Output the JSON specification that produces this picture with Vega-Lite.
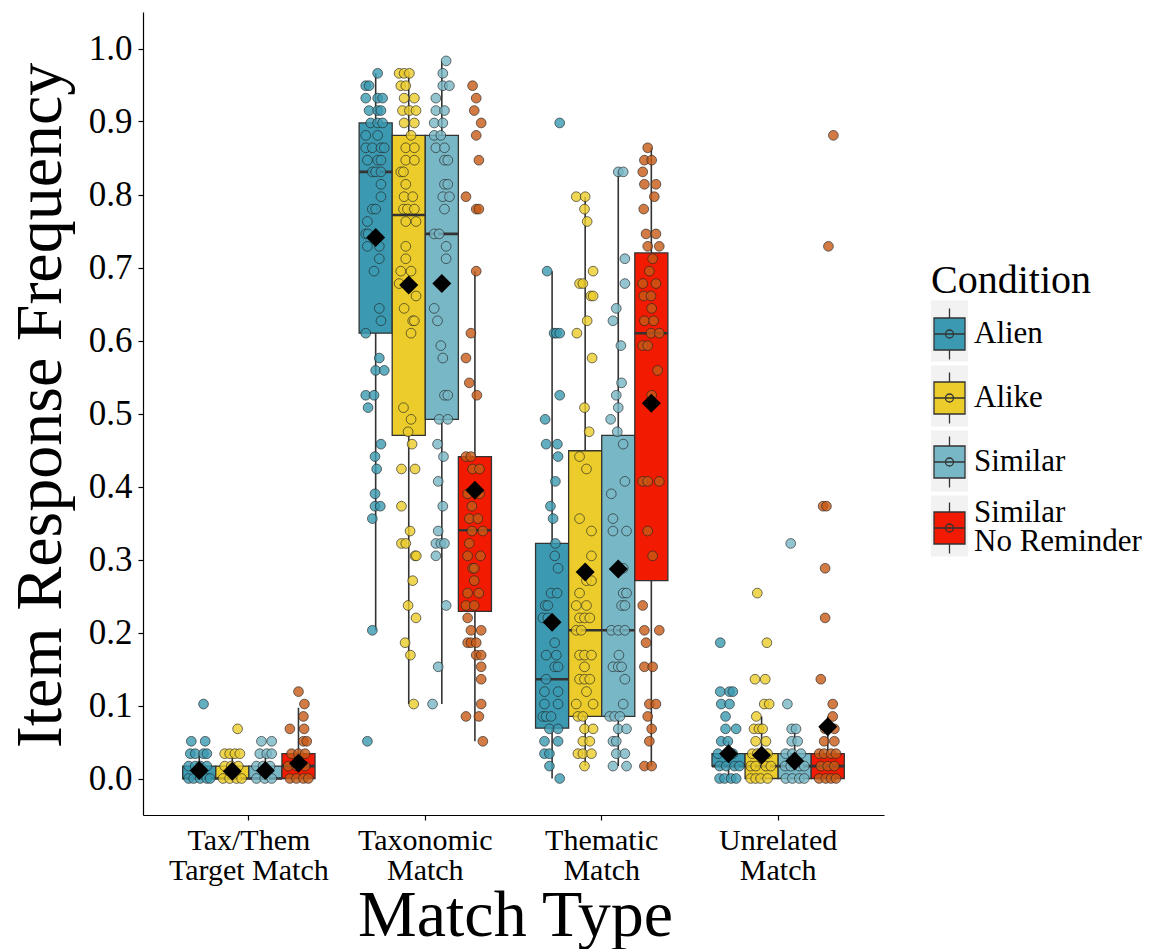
{
"$schema":"https://vega.github.io/schema/vega-lite/v6.json",
"width":741,"height":803,
"autosize":{"type":"none"},
"padding":{"left":143,"top":12,"right":272,"bottom":134},
"background":"white",
"config":{
 "font":"Liberation Serif",
 "view":{"stroke":null},
 "axis":{"grid":false,"domainColor":"black","domainWidth":1.2,"tickColor":"black","tickWidth":1.2,"tickSize":5,"labelColor":"black","titleColor":"black","titleFontWeight":"normal"},
 "axisY":{"labelFontSize":35,"labelPadding":6,"titleFontSize":66,"titleX":-83,"titleY":393,"titleBaseline":"alphabetic"},
 "axisX":{"labelFontSize":30,"labelLineHeight":30,"labelBaseline":"top","labelPadding":5,"labelAngle":0,"titleFontSize":66,"titleX":372,"titleY":120,"titleBaseline":"alphabetic"},
 "legend":{"orient":"none","legendX":788,"legendY":249,"titleFontSize":40,"titleFontWeight":"normal","titleColor":"black","titlePadding":12,"labelFontSize":31,"labelColor":"black","labelOffset":1,"labelLimit":300,"symbolSize":1600,"symbolType":"M-0.9,-0.8H0.65V0.8H-0.9Z M-0.125,-1.275V-0.8 M-0.125,0.8V1.275 M-0.9,0H0.65 M-0.325,0A0.2,0.2 0 1,1 0.075,0A0.2,0.2 0 1,1 -0.325,0Z","symbolStrokeColor":"#333333","symbolStrokeWidth":1.3,"symbolOpacity":1,"rowPadding":6}
},
"datasets":{
"boxes":[
{"match":"TaxThem","cond":"Alien","lo":0,"q1":0,"med":0,"q3":0.017,"hi":0.034,"mean":0.011},
{"match":"TaxThem","cond":"Alike","lo":0,"q1":0,"med":0,"q3":0.017,"hi":0.034,"mean":0.010},
{"match":"TaxThem","cond":"Similar","lo":0,"q1":0,"med":0,"q3":0.017,"hi":0.034,"mean":0.011},
{"match":"TaxThem","cond":"Similar No Reminder","lo":0,"q1":0,"med":0.017,"q3":0.034,"hi":0.097,"mean":0.021},
{"match":"Taxonomic","cond":"Alien","lo":0.203,"q1":0.610,"med":0.831,"q3":0.898,"hi":0.966,"mean":0.741},
{"match":"Taxonomic","cond":"Alike","lo":0.102,"q1":0.470,"med":0.772,"q3":0.881,"hi":0.966,"mean":0.676},
{"match":"Taxonomic","cond":"Similar","lo":0.102,"q1":0.492,"med":0.746,"q3":0.881,"hi":0.983,"mean":0.678},
{"match":"Taxonomic","cond":"Similar No Reminder","lo":0.051,"q1":0.229,"med":0.340,"q3":0.441,"hi":0.695,"mean":0.395},
{"match":"Thematic","cond":"Alien","lo":0,"q1":0.069,"med":0.136,"q3":0.322,"hi":0.695,"mean":0.214},
{"match":"Thematic","cond":"Alike","lo":0.017,"q1":0.085,"med":0.203,"q3":0.449,"hi":0.797,"mean":0.283},
{"match":"Thematic","cond":"Similar","lo":0.017,"q1":0.085,"med":0.203,"q3":0.470,"hi":0.831,"mean":0.287},
{"match":"Thematic","cond":"Similar No Reminder","lo":0.017,"q1":0.271,"med":0.610,"q3":0.720,"hi":0.864,"mean":0.514},
{"match":"Unrelated","cond":"Alien","lo":0,"q1":0.017,"med":0.017,"q3":0.034,"hi":0.051,"mean":0.034},
{"match":"Unrelated","cond":"Alike","lo":0,"q1":0,"med":0.017,"q3":0.034,"hi":0.085,"mean":0.032},
{"match":"Unrelated","cond":"Similar","lo":0,"q1":0,"med":0.017,"q3":0.034,"hi":0.068,"mean":0.024},
{"match":"Unrelated","cond":"Similar No Reminder","lo":0,"q1":0,"med":0.017,"q3":0.034,"hi":0.085,"mean":0.071}
],
"points":[
{"match":"TaxThem","cond":"Alien","freq":0.102,"jit":0.13},
{"match":"TaxThem","cond":"Alien","freq":0.051,"jit":-0.24},
{"match":"TaxThem","cond":"Alien","freq":0.051,"jit":0.18},
{"match":"TaxThem","cond":"Alien","freq":0.034,"jit":-0.27},
{"match":"TaxThem","cond":"Alien","freq":0.034,"jit":-0.12},
{"match":"TaxThem","cond":"Alien","freq":0.034,"jit":0.13},
{"match":"TaxThem","cond":"Alien","freq":0.034,"jit":0.23},
{"match":"TaxThem","cond":"Alien","freq":0.017,"jit":-0.32},
{"match":"TaxThem","cond":"Alien","freq":0.017,"jit":-0.12},
{"match":"TaxThem","cond":"Alien","freq":0.017,"jit":0.03},
{"match":"TaxThem","cond":"Alien","freq":0.017,"jit":0.23},
{"match":"TaxThem","cond":"Alien","freq":0,"jit":-0.32},
{"match":"TaxThem","cond":"Alien","freq":0,"jit":-0.17},
{"match":"TaxThem","cond":"Alien","freq":0,"jit":0.03},
{"match":"TaxThem","cond":"Alien","freq":0,"jit":0.23},
{"match":"TaxThem","cond":"Alien","freq":0,"jit":0.33},
{"match":"TaxThem","cond":"Alike","freq":0.068,"jit":0.16},
{"match":"TaxThem","cond":"Alike","freq":0.034,"jit":-0.23},
{"match":"TaxThem","cond":"Alike","freq":0.034,"jit":-0.08},
{"match":"TaxThem","cond":"Alike","freq":0.034,"jit":0.08},
{"match":"TaxThem","cond":"Alike","freq":0.034,"jit":0.23},
{"match":"TaxThem","cond":"Alike","freq":0.017,"jit":-0.23},
{"match":"TaxThem","cond":"Alike","freq":0.017,"jit":-0.03},
{"match":"TaxThem","cond":"Alike","freq":0.017,"jit":0.18},
{"match":"TaxThem","cond":"Alike","freq":0,"jit":-0.28},
{"match":"TaxThem","cond":"Alike","freq":0,"jit":-0.08},
{"match":"TaxThem","cond":"Alike","freq":0,"jit":0.13},
{"match":"TaxThem","cond":"Alike","freq":0,"jit":0.28},
{"match":"TaxThem","cond":"Similar","freq":0.051,"jit":-0.12},
{"match":"TaxThem","cond":"Similar","freq":0.051,"jit":0.19},
{"match":"TaxThem","cond":"Similar","freq":0.034,"jit":-0.17},
{"match":"TaxThem","cond":"Similar","freq":0.034,"jit":0.04},
{"match":"TaxThem","cond":"Similar","freq":0.034,"jit":0.19},
{"match":"TaxThem","cond":"Similar","freq":0.017,"jit":-0.27},
{"match":"TaxThem","cond":"Similar","freq":0.017,"jit":-0.07},
{"match":"TaxThem","cond":"Similar","freq":0.017,"jit":0.14},
{"match":"TaxThem","cond":"Similar","freq":0,"jit":-0.27},
{"match":"TaxThem","cond":"Similar","freq":0,"jit":-0.02},
{"match":"TaxThem","cond":"Similar","freq":0,"jit":0.19},
{"match":"TaxThem","cond":"Similar No Reminder","freq":0.119,"jit":0.0},
{"match":"TaxThem","cond":"Similar No Reminder","freq":0.102,"jit":0.18},
{"match":"TaxThem","cond":"Similar No Reminder","freq":0.085,"jit":0.15},
{"match":"TaxThem","cond":"Similar No Reminder","freq":0.068,"jit":-0.26},
{"match":"TaxThem","cond":"Similar No Reminder","freq":0.068,"jit":0.17},
{"match":"TaxThem","cond":"Similar No Reminder","freq":0.051,"jit":0.15},
{"match":"TaxThem","cond":"Similar No Reminder","freq":0.051,"jit":0.25},
{"match":"TaxThem","cond":"Similar No Reminder","freq":0.034,"jit":-0.21},
{"match":"TaxThem","cond":"Similar No Reminder","freq":0.034,"jit":0.0},
{"match":"TaxThem","cond":"Similar No Reminder","freq":0.034,"jit":0.2},
{"match":"TaxThem","cond":"Similar No Reminder","freq":0.017,"jit":-0.31},
{"match":"TaxThem","cond":"Similar No Reminder","freq":0.017,"jit":-0.06},
{"match":"TaxThem","cond":"Similar No Reminder","freq":0.017,"jit":0.2},
{"match":"TaxThem","cond":"Similar No Reminder","freq":0,"jit":-0.26},
{"match":"TaxThem","cond":"Similar No Reminder","freq":0,"jit":-0.06},
{"match":"TaxThem","cond":"Similar No Reminder","freq":0,"jit":0.15},
{"match":"TaxThem","cond":"Similar No Reminder","freq":0,"jit":0.3},
{"match":"Taxonomic","cond":"Alien","freq":0.966,"jit":0.06},
{"match":"Taxonomic","cond":"Alien","freq":0.949,"jit":-0.3},
{"match":"Taxonomic","cond":"Alien","freq":0.949,"jit":-0.2},
{"match":"Taxonomic","cond":"Alien","freq":0.932,"jit":-0.3},
{"match":"Taxonomic","cond":"Alien","freq":0.932,"jit":0.06},
{"match":"Taxonomic","cond":"Alien","freq":0.932,"jit":0.21},
{"match":"Taxonomic","cond":"Alien","freq":0.915,"jit":-0.2},
{"match":"Taxonomic","cond":"Alien","freq":0.915,"jit":0.06},
{"match":"Taxonomic","cond":"Alien","freq":0.915,"jit":0.16},
{"match":"Taxonomic","cond":"Alien","freq":0.898,"jit":-0.15},
{"match":"Taxonomic","cond":"Alien","freq":0.898,"jit":0.06},
{"match":"Taxonomic","cond":"Alien","freq":0.898,"jit":0.21},
{"match":"Taxonomic","cond":"Alien","freq":0.881,"jit":-0.3},
{"match":"Taxonomic","cond":"Alien","freq":0.881,"jit":0.06},
{"match":"Taxonomic","cond":"Alien","freq":0.864,"jit":-0.3},
{"match":"Taxonomic","cond":"Alien","freq":0.864,"jit":-0.1},
{"match":"Taxonomic","cond":"Alien","freq":0.864,"jit":0.16},
{"match":"Taxonomic","cond":"Alien","freq":0.864,"jit":0.26},
{"match":"Taxonomic","cond":"Alien","freq":0.847,"jit":-0.25},
{"match":"Taxonomic","cond":"Alien","freq":0.847,"jit":0.06},
{"match":"Taxonomic","cond":"Alien","freq":0.847,"jit":0.16},
{"match":"Taxonomic","cond":"Alien","freq":0.831,"jit":-0.1},
{"match":"Taxonomic","cond":"Alien","freq":0.831,"jit":0.0},
{"match":"Taxonomic","cond":"Alien","freq":0.831,"jit":0.16},
{"match":"Taxonomic","cond":"Alien","freq":0.814,"jit":0.16},
{"match":"Taxonomic","cond":"Alien","freq":0.797,"jit":0.16},
{"match":"Taxonomic","cond":"Alien","freq":0.780,"jit":-0.1},
{"match":"Taxonomic","cond":"Alien","freq":0.780,"jit":0.0},
{"match":"Taxonomic","cond":"Alien","freq":0.763,"jit":-0.25},
{"match":"Taxonomic","cond":"Alien","freq":0.746,"jit":-0.3},
{"match":"Taxonomic","cond":"Alien","freq":0.746,"jit":-0.23},
{"match":"Taxonomic","cond":"Alien","freq":0.729,"jit":-0.25},
{"match":"Taxonomic","cond":"Alien","freq":0.729,"jit":0.11},
{"match":"Taxonomic","cond":"Alien","freq":0.712,"jit":0.11},
{"match":"Taxonomic","cond":"Alien","freq":0.695,"jit":-0.05},
{"match":"Taxonomic","cond":"Alien","freq":0.644,"jit":0.11},
{"match":"Taxonomic","cond":"Alien","freq":0.627,"jit":0.16},
{"match":"Taxonomic","cond":"Alien","freq":0.610,"jit":-0.3},
{"match":"Taxonomic","cond":"Alien","freq":0.576,"jit":0.11},
{"match":"Taxonomic","cond":"Alien","freq":0.559,"jit":0.0},
{"match":"Taxonomic","cond":"Alien","freq":0.559,"jit":0.26},
{"match":"Taxonomic","cond":"Alien","freq":0.525,"jit":-0.3},
{"match":"Taxonomic","cond":"Alien","freq":0.525,"jit":-0.05},
{"match":"Taxonomic","cond":"Alien","freq":0.508,"jit":-0.23},
{"match":"Taxonomic","cond":"Alien","freq":0.458,"jit":0.16},
{"match":"Taxonomic","cond":"Alien","freq":0.441,"jit":-0.02},
{"match":"Taxonomic","cond":"Alien","freq":0.424,"jit":0.03},
{"match":"Taxonomic","cond":"Alien","freq":0.390,"jit":-0.02},
{"match":"Taxonomic","cond":"Alien","freq":0.373,"jit":-0.02},
{"match":"Taxonomic","cond":"Alien","freq":0.373,"jit":0.14},
{"match":"Taxonomic","cond":"Alien","freq":0.356,"jit":-0.1},
{"match":"Taxonomic","cond":"Alien","freq":0.203,"jit":-0.1},
{"match":"Taxonomic","cond":"Alien","freq":0.051,"jit":-0.25},
{"match":"Taxonomic","cond":"Alike","freq":0.966,"jit":-0.29},
{"match":"Taxonomic","cond":"Alike","freq":0.966,"jit":-0.14},
{"match":"Taxonomic","cond":"Alike","freq":0.966,"jit":0.02},
{"match":"Taxonomic","cond":"Alike","freq":0.949,"jit":-0.24},
{"match":"Taxonomic","cond":"Alike","freq":0.949,"jit":-0.09},
{"match":"Taxonomic","cond":"Alike","freq":0.932,"jit":-0.14},
{"match":"Taxonomic","cond":"Alike","freq":0.932,"jit":0.17},
{"match":"Taxonomic","cond":"Alike","freq":0.915,"jit":-0.19},
{"match":"Taxonomic","cond":"Alike","freq":0.915,"jit":0.02},
{"match":"Taxonomic","cond":"Alike","freq":0.915,"jit":0.22},
{"match":"Taxonomic","cond":"Alike","freq":0.898,"jit":-0.14},
{"match":"Taxonomic","cond":"Alike","freq":0.898,"jit":0.17},
{"match":"Taxonomic","cond":"Alike","freq":0.881,"jit":0.07},
{"match":"Taxonomic","cond":"Alike","freq":0.864,"jit":-0.09},
{"match":"Taxonomic","cond":"Alike","freq":0.864,"jit":0.17},
{"match":"Taxonomic","cond":"Alike","freq":0.847,"jit":-0.09},
{"match":"Taxonomic","cond":"Alike","freq":0.847,"jit":0.17},
{"match":"Taxonomic","cond":"Alike","freq":0.831,"jit":-0.24},
{"match":"Taxonomic","cond":"Alike","freq":0.831,"jit":-0.16},
{"match":"Taxonomic","cond":"Alike","freq":0.814,"jit":-0.09},
{"match":"Taxonomic","cond":"Alike","freq":0.797,"jit":-0.14},
{"match":"Taxonomic","cond":"Alike","freq":0.797,"jit":0.12},
{"match":"Taxonomic","cond":"Alike","freq":0.780,"jit":-0.16},
{"match":"Taxonomic","cond":"Alike","freq":0.780,"jit":-0.04},
{"match":"Taxonomic","cond":"Alike","freq":0.780,"jit":0.17},
{"match":"Taxonomic","cond":"Alike","freq":0.763,"jit":-0.09},
{"match":"Taxonomic","cond":"Alike","freq":0.763,"jit":0.22},
{"match":"Taxonomic","cond":"Alike","freq":0.729,"jit":-0.09},
{"match":"Taxonomic","cond":"Alike","freq":0.712,"jit":-0.09},
{"match":"Taxonomic","cond":"Alike","freq":0.695,"jit":-0.24},
{"match":"Taxonomic","cond":"Alike","freq":0.695,"jit":0.07},
{"match":"Taxonomic","cond":"Alike","freq":0.678,"jit":-0.29},
{"match":"Taxonomic","cond":"Alike","freq":0.661,"jit":0.22},
{"match":"Taxonomic","cond":"Alike","freq":0.644,"jit":-0.14},
{"match":"Taxonomic","cond":"Alike","freq":0.627,"jit":0.12},
{"match":"Taxonomic","cond":"Alike","freq":0.627,"jit":0.17},
{"match":"Taxonomic","cond":"Alike","freq":0.610,"jit":0.07},
{"match":"Taxonomic","cond":"Alike","freq":0.508,"jit":-0.16},
{"match":"Taxonomic","cond":"Alike","freq":0.492,"jit":0.07},
{"match":"Taxonomic","cond":"Alike","freq":0.475,"jit":-0.02},
{"match":"Taxonomic","cond":"Alike","freq":0.458,"jit":0.1},
{"match":"Taxonomic","cond":"Alike","freq":0.424,"jit":-0.22},
{"match":"Taxonomic","cond":"Alike","freq":0.424,"jit":0.19},
{"match":"Taxonomic","cond":"Alike","freq":0.373,"jit":-0.22},
{"match":"Taxonomic","cond":"Alike","freq":0.339,"jit":0.04},
{"match":"Taxonomic","cond":"Alike","freq":0.322,"jit":-0.22},
{"match":"Taxonomic","cond":"Alike","freq":0.322,"jit":-0.09},
{"match":"Taxonomic","cond":"Alike","freq":0.305,"jit":0.19},
{"match":"Taxonomic","cond":"Alike","freq":0.305,"jit":0.23},
{"match":"Taxonomic","cond":"Alike","freq":0.271,"jit":0.12},
{"match":"Taxonomic","cond":"Alike","freq":0.237,"jit":-0.02},
{"match":"Taxonomic","cond":"Alike","freq":0.220,"jit":0.22},
{"match":"Taxonomic","cond":"Alike","freq":0.186,"jit":-0.11},
{"match":"Taxonomic","cond":"Alike","freq":0.169,"jit":0.05},
{"match":"Taxonomic","cond":"Alike","freq":0.102,"jit":0.15},
{"match":"Taxonomic","cond":"Similar","freq":0.983,"jit":0.13},
{"match":"Taxonomic","cond":"Similar","freq":0.966,"jit":0.03},
{"match":"Taxonomic","cond":"Similar","freq":0.949,"jit":0.03},
{"match":"Taxonomic","cond":"Similar","freq":0.949,"jit":0.23},
{"match":"Taxonomic","cond":"Similar","freq":0.932,"jit":-0.18},
{"match":"Taxonomic","cond":"Similar","freq":0.915,"jit":-0.18},
{"match":"Taxonomic","cond":"Similar","freq":0.915,"jit":0.08},
{"match":"Taxonomic","cond":"Similar","freq":0.898,"jit":-0.23},
{"match":"Taxonomic","cond":"Similar","freq":0.898,"jit":0.03},
{"match":"Taxonomic","cond":"Similar","freq":0.881,"jit":-0.23},
{"match":"Taxonomic","cond":"Similar","freq":0.881,"jit":-0.03},
{"match":"Taxonomic","cond":"Similar","freq":0.864,"jit":-0.18},
{"match":"Taxonomic","cond":"Similar","freq":0.864,"jit":0.08},
{"match":"Taxonomic","cond":"Similar","freq":0.847,"jit":0.08},
{"match":"Taxonomic","cond":"Similar","freq":0.847,"jit":0.18},
{"match":"Taxonomic","cond":"Similar","freq":0.814,"jit":0.08},
{"match":"Taxonomic","cond":"Similar","freq":0.814,"jit":0.18},
{"match":"Taxonomic","cond":"Similar","freq":0.797,"jit":0.03},
{"match":"Taxonomic","cond":"Similar","freq":0.797,"jit":0.23},
{"match":"Taxonomic","cond":"Similar","freq":0.780,"jit":0.08},
{"match":"Taxonomic","cond":"Similar","freq":0.746,"jit":-0.23},
{"match":"Taxonomic","cond":"Similar","freq":0.746,"jit":-0.08},
{"match":"Taxonomic","cond":"Similar","freq":0.729,"jit":0.13},
{"match":"Taxonomic","cond":"Similar","freq":0.712,"jit":0.13},
{"match":"Taxonomic","cond":"Similar","freq":0.644,"jit":-0.23},
{"match":"Taxonomic","cond":"Similar","freq":0.627,"jit":-0.13},
{"match":"Taxonomic","cond":"Similar","freq":0.593,"jit":-0.03},
{"match":"Taxonomic","cond":"Similar","freq":0.576,"jit":0.03},
{"match":"Taxonomic","cond":"Similar","freq":0.525,"jit":0.08},
{"match":"Taxonomic","cond":"Similar","freq":0.525,"jit":0.18},
{"match":"Taxonomic","cond":"Similar","freq":0.492,"jit":-0.08},
{"match":"Taxonomic","cond":"Similar","freq":0.492,"jit":0.18},
{"match":"Taxonomic","cond":"Similar","freq":0.458,"jit":-0.13},
{"match":"Taxonomic","cond":"Similar","freq":0.441,"jit":0.05},
{"match":"Taxonomic","cond":"Similar","freq":0.407,"jit":-0.11},
{"match":"Taxonomic","cond":"Similar","freq":0.373,"jit":0.03},
{"match":"Taxonomic","cond":"Similar","freq":0.339,"jit":-0.11},
{"match":"Taxonomic","cond":"Similar","freq":0.322,"jit":-0.18},
{"match":"Taxonomic","cond":"Similar","freq":0.322,"jit":-0.03},
{"match":"Taxonomic","cond":"Similar","freq":0.322,"jit":0.08},
{"match":"Taxonomic","cond":"Similar","freq":0.305,"jit":-0.18},
{"match":"Taxonomic","cond":"Similar","freq":0.237,"jit":0.13},
{"match":"Taxonomic","cond":"Similar","freq":0.153,"jit":-0.11},
{"match":"Taxonomic","cond":"Similar","freq":0.102,"jit":-0.28},
{"match":"Taxonomic","cond":"Similar No Reminder","freq":0.949,"jit":-0.07},
{"match":"Taxonomic","cond":"Similar No Reminder","freq":0.932,"jit":0.04},
{"match":"Taxonomic","cond":"Similar No Reminder","freq":0.915,"jit":-0.02},
{"match":"Taxonomic","cond":"Similar No Reminder","freq":0.898,"jit":0.19},
{"match":"Taxonomic","cond":"Similar No Reminder","freq":0.881,"jit":0.04},
{"match":"Taxonomic","cond":"Similar No Reminder","freq":0.847,"jit":0.12},
{"match":"Taxonomic","cond":"Similar No Reminder","freq":0.797,"jit":-0.27},
{"match":"Taxonomic","cond":"Similar No Reminder","freq":0.780,"jit":0.04},
{"match":"Taxonomic","cond":"Similar No Reminder","freq":0.780,"jit":0.12},
{"match":"Taxonomic","cond":"Similar No Reminder","freq":0.695,"jit":0.04},
{"match":"Taxonomic","cond":"Similar No Reminder","freq":0.610,"jit":-0.12},
{"match":"Taxonomic","cond":"Similar No Reminder","freq":0.576,"jit":-0.27},
{"match":"Taxonomic","cond":"Similar No Reminder","freq":0.542,"jit":-0.17},
{"match":"Taxonomic","cond":"Similar No Reminder","freq":0.525,"jit":0.06},
{"match":"Taxonomic","cond":"Similar No Reminder","freq":0.441,"jit":-0.27},
{"match":"Taxonomic","cond":"Similar No Reminder","freq":0.441,"jit":-0.12},
{"match":"Taxonomic","cond":"Similar No Reminder","freq":0.424,"jit":-0.07},
{"match":"Taxonomic","cond":"Similar No Reminder","freq":0.424,"jit":0.14},
{"match":"Taxonomic","cond":"Similar No Reminder","freq":0.390,"jit":-0.22},
{"match":"Taxonomic","cond":"Similar No Reminder","freq":0.390,"jit":0.14},
{"match":"Taxonomic","cond":"Similar No Reminder","freq":0.373,"jit":-0.09},
{"match":"Taxonomic","cond":"Similar No Reminder","freq":0.356,"jit":-0.17},
{"match":"Taxonomic","cond":"Similar No Reminder","freq":0.356,"jit":0.09},
{"match":"Taxonomic","cond":"Similar No Reminder","freq":0.339,"jit":-0.09},
{"match":"Taxonomic","cond":"Similar No Reminder","freq":0.339,"jit":0.24},
{"match":"Taxonomic","cond":"Similar No Reminder","freq":0.322,"jit":-0.17},
{"match":"Taxonomic","cond":"Similar No Reminder","freq":0.305,"jit":-0.22},
{"match":"Taxonomic","cond":"Similar No Reminder","freq":0.305,"jit":0.17},
{"match":"Taxonomic","cond":"Similar No Reminder","freq":0.288,"jit":-0.07},
{"match":"Taxonomic","cond":"Similar No Reminder","freq":0.288,"jit":-0.02},
{"match":"Taxonomic","cond":"Similar No Reminder","freq":0.271,"jit":-0.02},
{"match":"Taxonomic","cond":"Similar No Reminder","freq":0.254,"jit":-0.22},
{"match":"Taxonomic","cond":"Similar No Reminder","freq":0.254,"jit":0.12},
{"match":"Taxonomic","cond":"Similar No Reminder","freq":0.237,"jit":-0.27},
{"match":"Taxonomic","cond":"Similar No Reminder","freq":0.237,"jit":-0.02},
{"match":"Taxonomic","cond":"Similar No Reminder","freq":0.220,"jit":-0.22},
{"match":"Taxonomic","cond":"Similar No Reminder","freq":0.203,"jit":-0.12},
{"match":"Taxonomic","cond":"Similar No Reminder","freq":0.203,"jit":0.19},
{"match":"Taxonomic","cond":"Similar No Reminder","freq":0.186,"jit":-0.22},
{"match":"Taxonomic","cond":"Similar No Reminder","freq":0.186,"jit":-0.12},
{"match":"Taxonomic","cond":"Similar No Reminder","freq":0.186,"jit":0.04},
{"match":"Taxonomic","cond":"Similar No Reminder","freq":0.169,"jit":0.04},
{"match":"Taxonomic","cond":"Similar No Reminder","freq":0.169,"jit":0.19},
{"match":"Taxonomic","cond":"Similar No Reminder","freq":0.153,"jit":0.19},
{"match":"Taxonomic","cond":"Similar No Reminder","freq":0.136,"jit":0.19},
{"match":"Taxonomic","cond":"Similar No Reminder","freq":0.102,"jit":0.19},
{"match":"Taxonomic","cond":"Similar No Reminder","freq":0.085,"jit":-0.27},
{"match":"Taxonomic","cond":"Similar No Reminder","freq":0.085,"jit":0.12},
{"match":"Taxonomic","cond":"Similar No Reminder","freq":0.051,"jit":0.24},
{"match":"Thematic","cond":"Alien","freq":0.898,"jit":0.23},
{"match":"Thematic","cond":"Alien","freq":0.695,"jit":-0.15},
{"match":"Thematic","cond":"Alien","freq":0.610,"jit":0.06},
{"match":"Thematic","cond":"Alien","freq":0.610,"jit":0.13},
{"match":"Thematic","cond":"Alien","freq":0.610,"jit":0.23},
{"match":"Thematic","cond":"Alien","freq":0.525,"jit":0.23},
{"match":"Thematic","cond":"Alien","freq":0.492,"jit":-0.21},
{"match":"Thematic","cond":"Alien","freq":0.458,"jit":-0.18},
{"match":"Thematic","cond":"Alien","freq":0.458,"jit":0.16},
{"match":"Thematic","cond":"Alien","freq":0.441,"jit":0.18},
{"match":"Thematic","cond":"Alien","freq":0.407,"jit":0.1},
{"match":"Thematic","cond":"Alien","freq":0.373,"jit":-0.05},
{"match":"Thematic","cond":"Alien","freq":0.356,"jit":0.03},
{"match":"Thematic","cond":"Alien","freq":0.322,"jit":0.1},
{"match":"Thematic","cond":"Alien","freq":0.305,"jit":0.08},
{"match":"Thematic","cond":"Alien","freq":0.288,"jit":0.18},
{"match":"Thematic","cond":"Alien","freq":0.254,"jit":-0.03},
{"match":"Thematic","cond":"Alien","freq":0.254,"jit":0.15},
{"match":"Thematic","cond":"Alien","freq":0.237,"jit":-0.21},
{"match":"Thematic","cond":"Alien","freq":0.237,"jit":-0.13},
{"match":"Thematic","cond":"Alien","freq":0.220,"jit":-0.28},
{"match":"Thematic","cond":"Alien","freq":0.220,"jit":-0.13},
{"match":"Thematic","cond":"Alien","freq":0.186,"jit":0.08},
{"match":"Thematic","cond":"Alien","freq":0.169,"jit":-0.18},
{"match":"Thematic","cond":"Alien","freq":0.169,"jit":0.13},
{"match":"Thematic","cond":"Alien","freq":0.153,"jit":0.08},
{"match":"Thematic","cond":"Alien","freq":0.153,"jit":0.18},
{"match":"Thematic","cond":"Alien","freq":0.136,"jit":-0.18},
{"match":"Thematic","cond":"Alien","freq":0.119,"jit":-0.23},
{"match":"Thematic","cond":"Alien","freq":0.119,"jit":0.18},
{"match":"Thematic","cond":"Alien","freq":0.102,"jit":-0.23},
{"match":"Thematic","cond":"Alien","freq":0.102,"jit":0.18},
{"match":"Thematic","cond":"Alien","freq":0.085,"jit":-0.28},
{"match":"Thematic","cond":"Alien","freq":0.085,"jit":-0.18},
{"match":"Thematic","cond":"Alien","freq":0.085,"jit":-0.03},
{"match":"Thematic","cond":"Alien","freq":0.068,"jit":-0.08},
{"match":"Thematic","cond":"Alien","freq":0.068,"jit":0.18},
{"match":"Thematic","cond":"Alien","freq":0.051,"jit":-0.23},
{"match":"Thematic","cond":"Alien","freq":0.051,"jit":0.18},
{"match":"Thematic","cond":"Alien","freq":0.034,"jit":-0.23},
{"match":"Thematic","cond":"Alien","freq":0.034,"jit":-0.08},
{"match":"Thematic","cond":"Alien","freq":0.017,"jit":-0.08},
{"match":"Thematic","cond":"Alien","freq":0,"jit":0.23},
{"match":"Thematic","cond":"Alike","freq":0.797,"jit":-0.27},
{"match":"Thematic","cond":"Alike","freq":0.797,"jit":0.0},
{"match":"Thematic","cond":"Alike","freq":0.780,"jit":-0.02},
{"match":"Thematic","cond":"Alike","freq":0.763,"jit":0.06},
{"match":"Thematic","cond":"Alike","freq":0.695,"jit":0.24},
{"match":"Thematic","cond":"Alike","freq":0.678,"jit":-0.17},
{"match":"Thematic","cond":"Alike","freq":0.678,"jit":-0.07},
{"match":"Thematic","cond":"Alike","freq":0.661,"jit":0.17},
{"match":"Thematic","cond":"Alike","freq":0.661,"jit":0.24},
{"match":"Thematic","cond":"Alike","freq":0.627,"jit":0.06},
{"match":"Thematic","cond":"Alike","freq":0.610,"jit":-0.25},
{"match":"Thematic","cond":"Alike","freq":0.576,"jit":0.21},
{"match":"Thematic","cond":"Alike","freq":0.508,"jit":-0.02},
{"match":"Thematic","cond":"Alike","freq":0.475,"jit":0.12},
{"match":"Thematic","cond":"Alike","freq":0.441,"jit":-0.17},
{"match":"Thematic","cond":"Alike","freq":0.424,"jit":0.04},
{"match":"Thematic","cond":"Alike","freq":0.356,"jit":-0.17},
{"match":"Thematic","cond":"Alike","freq":0.339,"jit":0.19},
{"match":"Thematic","cond":"Alike","freq":0.305,"jit":0.19},
{"match":"Thematic","cond":"Alike","freq":0.271,"jit":0.04},
{"match":"Thematic","cond":"Alike","freq":0.271,"jit":0.19},
{"match":"Thematic","cond":"Alike","freq":0.254,"jit":-0.17},
{"match":"Thematic","cond":"Alike","freq":0.237,"jit":-0.27},
{"match":"Thematic","cond":"Alike","freq":0.237,"jit":0.04},
{"match":"Thematic","cond":"Alike","freq":0.220,"jit":-0.17},
{"match":"Thematic","cond":"Alike","freq":0.220,"jit":-0.02},
{"match":"Thematic","cond":"Alike","freq":0.220,"jit":0.14},
{"match":"Thematic","cond":"Alike","freq":0.203,"jit":-0.27},
{"match":"Thematic","cond":"Alike","freq":0.203,"jit":-0.12},
{"match":"Thematic","cond":"Alike","freq":0.169,"jit":-0.17},
{"match":"Thematic","cond":"Alike","freq":0.169,"jit":-0.02},
{"match":"Thematic","cond":"Alike","freq":0.169,"jit":0.19},
{"match":"Thematic","cond":"Alike","freq":0.153,"jit":-0.02},
{"match":"Thematic","cond":"Alike","freq":0.136,"jit":-0.17},
{"match":"Thematic","cond":"Alike","freq":0.136,"jit":-0.02},
{"match":"Thematic","cond":"Alike","freq":0.136,"jit":0.14},
{"match":"Thematic","cond":"Alike","freq":0.119,"jit":0.04},
{"match":"Thematic","cond":"Alike","freq":0.102,"jit":-0.27},
{"match":"Thematic","cond":"Alike","freq":0.102,"jit":0.24},
{"match":"Thematic","cond":"Alike","freq":0.085,"jit":-0.22},
{"match":"Thematic","cond":"Alike","freq":0.085,"jit":-0.07},
{"match":"Thematic","cond":"Alike","freq":0.068,"jit":-0.02},
{"match":"Thematic","cond":"Alike","freq":0.068,"jit":0.24},
{"match":"Thematic","cond":"Alike","freq":0.051,"jit":-0.07},
{"match":"Thematic","cond":"Alike","freq":0.051,"jit":0.14},
{"match":"Thematic","cond":"Alike","freq":0.034,"jit":-0.22},
{"match":"Thematic","cond":"Alike","freq":0.034,"jit":-0.07},
{"match":"Thematic","cond":"Alike","freq":0.034,"jit":0.19},
{"match":"Thematic","cond":"Alike","freq":0.017,"jit":-0.02},
{"match":"Thematic","cond":"Similar","freq":0.831,"jit":0.0},
{"match":"Thematic","cond":"Similar","freq":0.831,"jit":0.15},
{"match":"Thematic","cond":"Similar","freq":0.712,"jit":0.2},
{"match":"Thematic","cond":"Similar","freq":0.678,"jit":0.2},
{"match":"Thematic","cond":"Similar","freq":0.644,"jit":-0.06},
{"match":"Thematic","cond":"Similar","freq":0.627,"jit":-0.16},
{"match":"Thematic","cond":"Similar","freq":0.593,"jit":0.08},
{"match":"Thematic","cond":"Similar","freq":0.542,"jit":0.1},
{"match":"Thematic","cond":"Similar","freq":0.525,"jit":-0.06},
{"match":"Thematic","cond":"Similar","freq":0.508,"jit":0.0},
{"match":"Thematic","cond":"Similar","freq":0.492,"jit":-0.23},
{"match":"Thematic","cond":"Similar","freq":0.475,"jit":-0.03},
{"match":"Thematic","cond":"Similar","freq":0.458,"jit":0.15},
{"match":"Thematic","cond":"Similar","freq":0.407,"jit":0.2},
{"match":"Thematic","cond":"Similar","freq":0.390,"jit":-0.21},
{"match":"Thematic","cond":"Similar","freq":0.356,"jit":-0.16},
{"match":"Thematic","cond":"Similar","freq":0.339,"jit":-0.16},
{"match":"Thematic","cond":"Similar","freq":0.339,"jit":0.25},
{"match":"Thematic","cond":"Similar","freq":0.288,"jit":0.15},
{"match":"Thematic","cond":"Similar","freq":0.254,"jit":0.15},
{"match":"Thematic","cond":"Similar","freq":0.254,"jit":0.25},
{"match":"Thematic","cond":"Similar","freq":0.237,"jit":0.1},
{"match":"Thematic","cond":"Similar","freq":0.237,"jit":0.2},
{"match":"Thematic","cond":"Similar","freq":0.203,"jit":-0.21},
{"match":"Thematic","cond":"Similar","freq":0.203,"jit":0.0},
{"match":"Thematic","cond":"Similar","freq":0.203,"jit":0.2},
{"match":"Thematic","cond":"Similar","freq":0.169,"jit":0.02},
{"match":"Thematic","cond":"Similar","freq":0.153,"jit":-0.16},
{"match":"Thematic","cond":"Similar","freq":0.153,"jit":0.0},
{"match":"Thematic","cond":"Similar","freq":0.153,"jit":0.1},
{"match":"Thematic","cond":"Similar","freq":0.136,"jit":0.2},
{"match":"Thematic","cond":"Similar","freq":0.102,"jit":0.15},
{"match":"Thematic","cond":"Similar","freq":0.085,"jit":-0.26},
{"match":"Thematic","cond":"Similar","freq":0.085,"jit":-0.11},
{"match":"Thematic","cond":"Similar","freq":0.085,"jit":0.05},
{"match":"Thematic","cond":"Similar","freq":0.068,"jit":0.0},
{"match":"Thematic","cond":"Similar","freq":0.068,"jit":0.25},
{"match":"Thematic","cond":"Similar","freq":0.051,"jit":-0.16},
{"match":"Thematic","cond":"Similar","freq":0.051,"jit":-0.06},
{"match":"Thematic","cond":"Similar","freq":0.034,"jit":-0.06},
{"match":"Thematic","cond":"Similar","freq":0.034,"jit":0.2},
{"match":"Thematic","cond":"Similar","freq":0.017,"jit":-0.16},
{"match":"Thematic","cond":"Similar","freq":0.017,"jit":0.25},
{"match":"Thematic","cond":"Similar No Reminder","freq":0.864,"jit":-0.11},
{"match":"Thematic","cond":"Similar No Reminder","freq":0.847,"jit":-0.21},
{"match":"Thematic","cond":"Similar No Reminder","freq":0.847,"jit":0.01},
{"match":"Thematic","cond":"Similar No Reminder","freq":0.831,"jit":-0.26},
{"match":"Thematic","cond":"Similar No Reminder","freq":0.814,"jit":-0.21},
{"match":"Thematic","cond":"Similar No Reminder","freq":0.814,"jit":0.14},
{"match":"Thematic","cond":"Similar No Reminder","freq":0.797,"jit":0.09},
{"match":"Thematic","cond":"Similar No Reminder","freq":0.780,"jit":-0.23},
{"match":"Thematic","cond":"Similar No Reminder","freq":0.746,"jit":-0.16},
{"match":"Thematic","cond":"Similar No Reminder","freq":0.746,"jit":0.14},
{"match":"Thematic","cond":"Similar No Reminder","freq":0.729,"jit":-0.11},
{"match":"Thematic","cond":"Similar No Reminder","freq":0.729,"jit":0.24},
{"match":"Thematic","cond":"Similar No Reminder","freq":0.712,"jit":0.04},
{"match":"Thematic","cond":"Similar No Reminder","freq":0.695,"jit":-0.06},
{"match":"Thematic","cond":"Similar No Reminder","freq":0.678,"jit":-0.26},
{"match":"Thematic","cond":"Similar No Reminder","freq":0.678,"jit":0.14},
{"match":"Thematic","cond":"Similar No Reminder","freq":0.661,"jit":-0.23},
{"match":"Thematic","cond":"Similar No Reminder","freq":0.661,"jit":-0.01},
{"match":"Thematic","cond":"Similar No Reminder","freq":0.644,"jit":0.01},
{"match":"Thematic","cond":"Similar No Reminder","freq":0.627,"jit":-0.21},
{"match":"Thematic","cond":"Similar No Reminder","freq":0.627,"jit":0.07},
{"match":"Thematic","cond":"Similar No Reminder","freq":0.610,"jit":-0.01},
{"match":"Thematic","cond":"Similar No Reminder","freq":0.610,"jit":0.24},
{"match":"Thematic","cond":"Similar No Reminder","freq":0.593,"jit":-0.26},
{"match":"Thematic","cond":"Similar No Reminder","freq":0.593,"jit":-0.11},
{"match":"Thematic","cond":"Similar No Reminder","freq":0.559,"jit":0.19},
{"match":"Thematic","cond":"Similar No Reminder","freq":0.525,"jit":0.01},
{"match":"Thematic","cond":"Similar No Reminder","freq":0.407,"jit":-0.26},
{"match":"Thematic","cond":"Similar No Reminder","freq":0.407,"jit":-0.11},
{"match":"Thematic","cond":"Similar No Reminder","freq":0.407,"jit":0.24},
{"match":"Thematic","cond":"Similar No Reminder","freq":0.339,"jit":-0.11},
{"match":"Thematic","cond":"Similar No Reminder","freq":0.305,"jit":0.04},
{"match":"Thematic","cond":"Similar No Reminder","freq":0.237,"jit":-0.26},
{"match":"Thematic","cond":"Similar No Reminder","freq":0.203,"jit":-0.21},
{"match":"Thematic","cond":"Similar No Reminder","freq":0.203,"jit":0.24},
{"match":"Thematic","cond":"Similar No Reminder","freq":0.186,"jit":-0.16},
{"match":"Thematic","cond":"Similar No Reminder","freq":0.153,"jit":-0.21},
{"match":"Thematic","cond":"Similar No Reminder","freq":0.153,"jit":0.04},
{"match":"Thematic","cond":"Similar No Reminder","freq":0.102,"jit":-0.06},
{"match":"Thematic","cond":"Similar No Reminder","freq":0.102,"jit":0.14},
{"match":"Thematic","cond":"Similar No Reminder","freq":0.085,"jit":-0.11},
{"match":"Thematic","cond":"Similar No Reminder","freq":0.068,"jit":0.01},
{"match":"Thematic","cond":"Similar No Reminder","freq":0.051,"jit":-0.06},
{"match":"Thematic","cond":"Similar No Reminder","freq":0.017,"jit":-0.21},
{"match":"Thematic","cond":"Similar No Reminder","freq":0.017,"jit":0.01},
{"match":"Unrelated","cond":"Alien","freq":0.186,"jit":-0.25},
{"match":"Unrelated","cond":"Alien","freq":0.119,"jit":-0.25},
{"match":"Unrelated","cond":"Alien","freq":0.119,"jit":0.03},
{"match":"Unrelated","cond":"Alien","freq":0.119,"jit":0.13},
{"match":"Unrelated","cond":"Alien","freq":0.102,"jit":-0.22},
{"match":"Unrelated","cond":"Alien","freq":0.102,"jit":0.03},
{"match":"Unrelated","cond":"Alien","freq":0.085,"jit":-0.09},
{"match":"Unrelated","cond":"Alien","freq":0.068,"jit":-0.09},
{"match":"Unrelated","cond":"Alien","freq":0.068,"jit":0.23},
{"match":"Unrelated","cond":"Alien","freq":0.051,"jit":-0.22},
{"match":"Unrelated","cond":"Alien","freq":0.051,"jit":-0.02},
{"match":"Unrelated","cond":"Alien","freq":0.034,"jit":-0.32},
{"match":"Unrelated","cond":"Alien","freq":0.034,"jit":0.13},
{"match":"Unrelated","cond":"Alien","freq":0.017,"jit":-0.27},
{"match":"Unrelated","cond":"Alien","freq":0.017,"jit":-0.07},
{"match":"Unrelated","cond":"Alien","freq":0.017,"jit":0.18},
{"match":"Unrelated","cond":"Alien","freq":0.017,"jit":0.33},
{"match":"Unrelated","cond":"Alien","freq":0,"jit":-0.27},
{"match":"Unrelated","cond":"Alien","freq":0,"jit":-0.12},
{"match":"Unrelated","cond":"Alien","freq":0,"jit":0.08},
{"match":"Unrelated","cond":"Alien","freq":0,"jit":0.23},
{"match":"Unrelated","cond":"Alike","freq":0.254,"jit":-0.13},
{"match":"Unrelated","cond":"Alike","freq":0.186,"jit":0.16},
{"match":"Unrelated","cond":"Alike","freq":0.136,"jit":-0.2},
{"match":"Unrelated","cond":"Alike","freq":0.136,"jit":0.11},
{"match":"Unrelated","cond":"Alike","freq":0.102,"jit":0.08},
{"match":"Unrelated","cond":"Alike","freq":0.102,"jit":0.23},
{"match":"Unrelated","cond":"Alike","freq":0.085,"jit":-0.16},
{"match":"Unrelated","cond":"Alike","freq":0.068,"jit":-0.23},
{"match":"Unrelated","cond":"Alike","freq":0.068,"jit":-0.08},
{"match":"Unrelated","cond":"Alike","freq":0.068,"jit":0.03},
{"match":"Unrelated","cond":"Alike","freq":0.051,"jit":-0.18},
{"match":"Unrelated","cond":"Alike","freq":0.051,"jit":0.13},
{"match":"Unrelated","cond":"Alike","freq":0.034,"jit":-0.28},
{"match":"Unrelated","cond":"Alike","freq":0.034,"jit":-0.13},
{"match":"Unrelated","cond":"Alike","freq":0.034,"jit":0.18},
{"match":"Unrelated","cond":"Alike","freq":0.017,"jit":-0.33},
{"match":"Unrelated","cond":"Alike","freq":0.017,"jit":-0.18},
{"match":"Unrelated","cond":"Alike","freq":0.017,"jit":0.13},
{"match":"Unrelated","cond":"Alike","freq":0.017,"jit":0.28},
{"match":"Unrelated","cond":"Alike","freq":0,"jit":-0.33},
{"match":"Unrelated","cond":"Alike","freq":0,"jit":-0.18},
{"match":"Unrelated","cond":"Alike","freq":0,"jit":-0.03},
{"match":"Unrelated","cond":"Alike","freq":0,"jit":0.18},
{"match":"Unrelated","cond":"Similar","freq":0.322,"jit":-0.12},
{"match":"Unrelated","cond":"Similar","freq":0.102,"jit":-0.22},
{"match":"Unrelated","cond":"Similar","freq":0.068,"jit":-0.09},
{"match":"Unrelated","cond":"Similar","freq":0.068,"jit":0.04},
{"match":"Unrelated","cond":"Similar","freq":0.051,"jit":-0.09},
{"match":"Unrelated","cond":"Similar","freq":0.051,"jit":0.09},
{"match":"Unrelated","cond":"Similar","freq":0.034,"jit":-0.27},
{"match":"Unrelated","cond":"Similar","freq":0.034,"jit":-0.07},
{"match":"Unrelated","cond":"Similar","freq":0.034,"jit":0.19},
{"match":"Unrelated","cond":"Similar","freq":0.017,"jit":-0.29},
{"match":"Unrelated","cond":"Similar","freq":0.017,"jit":-0.12},
{"match":"Unrelated","cond":"Similar","freq":0.017,"jit":0.14},
{"match":"Unrelated","cond":"Similar","freq":0.017,"jit":0.29},
{"match":"Unrelated","cond":"Similar","freq":0,"jit":-0.27},
{"match":"Unrelated","cond":"Similar","freq":0,"jit":-0.07},
{"match":"Unrelated","cond":"Similar","freq":0,"jit":0.14},
{"match":"Unrelated","cond":"Similar","freq":0,"jit":0.29},
{"match":"Unrelated","cond":"Similar No Reminder","freq":0.881,"jit":0.17},
{"match":"Unrelated","cond":"Similar No Reminder","freq":0.729,"jit":0.02},
{"match":"Unrelated","cond":"Similar No Reminder","freq":0.373,"jit":-0.14},
{"match":"Unrelated","cond":"Similar No Reminder","freq":0.373,"jit":-0.04},
{"match":"Unrelated","cond":"Similar No Reminder","freq":0.288,"jit":-0.08},
{"match":"Unrelated","cond":"Similar No Reminder","freq":0.220,"jit":-0.08},
{"match":"Unrelated","cond":"Similar No Reminder","freq":0.136,"jit":-0.21},
{"match":"Unrelated","cond":"Similar No Reminder","freq":0.102,"jit":0.15},
{"match":"Unrelated","cond":"Similar No Reminder","freq":0.085,"jit":0.15},
{"match":"Unrelated","cond":"Similar No Reminder","freq":0.068,"jit":-0.08},
{"match":"Unrelated","cond":"Similar No Reminder","freq":0.068,"jit":0.2},
{"match":"Unrelated","cond":"Similar No Reminder","freq":0.051,"jit":-0.11},
{"match":"Unrelated","cond":"Similar No Reminder","freq":0.051,"jit":0.2},
{"match":"Unrelated","cond":"Similar No Reminder","freq":0.034,"jit":-0.26},
{"match":"Unrelated","cond":"Similar No Reminder","freq":0.034,"jit":-0.11},
{"match":"Unrelated","cond":"Similar No Reminder","freq":0.034,"jit":0.1},
{"match":"Unrelated","cond":"Similar No Reminder","freq":0.034,"jit":0.25},
{"match":"Unrelated","cond":"Similar No Reminder","freq":0.017,"jit":-0.21},
{"match":"Unrelated","cond":"Similar No Reminder","freq":0.017,"jit":0.0},
{"match":"Unrelated","cond":"Similar No Reminder","freq":0.017,"jit":0.2},
{"match":"Unrelated","cond":"Similar No Reminder","freq":0,"jit":-0.26},
{"match":"Unrelated","cond":"Similar No Reminder","freq":0,"jit":-0.06},
{"match":"Unrelated","cond":"Similar No Reminder","freq":0,"jit":0.1},
{"match":"Unrelated","cond":"Similar No Reminder","freq":0,"jit":0.25}
]
},
"encoding":{
 "x":{"field":"match","type":"nominal","sort":["TaxThem","Taxonomic","Thematic","Unrelated"],
  "scale":{"domain":["TaxThem","Taxonomic","Thematic","Unrelated"],"paddingInner":0,"paddingOuter":0.1},
  "axis":{"title":"Match Type","labelExpr":"datum.value == 'TaxThem' ? ['Tax/Them', 'Target Match'] : [datum.value, 'Match']"}}
},
"layer":[
 {"data":{"name":"boxes"},
  "mark":{"type":"point","filled":true,"color":"#F2F2F2","size":0,"strokeWidth":0,"opacity":1},
  "encoding":{
   "xOffset":{"field":"cond","type":"nominal","scale":{"type":"band","domain":["Alien","Alike","Similar","Similar No Reminder"],"paddingInner":0,"paddingOuter":0.6667}},
   "y":{"field":"mean","type":"quantitative","title":"Item Response Frequency","scale":{"domain":[-0.05,1.05],"nice":false,"zero":false},"axis":{"values":[0,0.1,0.2,0.3,0.4,0.5,0.6,0.7,0.8,0.9,1.0],"format":".1f"}},
   "shape":{"field":"cond","type":"nominal","scale":{"domain":["Similar No Reminder","Similar","Alike","Alien"],"range":["M-1,-1.525H0.85V1.525H-1Z","M-1,-1.525H0.85V1.525H-1Z","M-1,-1.525H0.85V1.525H-1Z","M-1,-1.525H0.85V1.525H-1Z"]},
    "legend":{"title":"Condition ","titleOpacity":0,"labelExpr":"''","titlePadding":10,"rowPadding":3,"symbolStrokeWidth":0,"symbolStrokeColor":"#F2F2F2","symbolFillColor":"#F2F2F2","zindex":0}}}},
 {"data":{"name":"boxes"},
  "mark":{"type":"rule","color":"#333333","strokeWidth":1.6},
  "encoding":{
   "xOffset":{"field":"cond","type":"nominal","scale":{"type":"band","domain":["Alien","Alike","Similar","Similar No Reminder"],"paddingInner":0,"paddingOuter":0.6667}},
   "y":{"field":"lo","type":"quantitative","title":"Item Response Frequency","scale":{"domain":[-0.05,1.05],"nice":false,"zero":false},"axis":{"values":[0,0.1,0.2,0.3,0.4,0.5,0.6,0.7,0.8,0.9,1.0],"format":".1f"}},
   "y2":{"field":"hi"}}},
 {"data":{"name":"boxes"},
  "mark":{"type":"bar","stroke":"#333333","strokeWidth":1.3,"opacity":1},
  "encoding":{
   "xOffset":{"field":"cond","type":"nominal","scale":{"type":"band","domain":["Alien","Alike","Similar","Similar No Reminder"],"paddingInner":0,"paddingOuter":0.6667}},
   "y":{"field":"q1","type":"quantitative","title":"Item Response Frequency","scale":{"domain":[-0.05,1.05],"nice":false,"zero":false},"axis":{"values":[0,0.1,0.2,0.3,0.4,0.5,0.6,0.7,0.8,0.9,1.0],"format":".1f"}},
   "y2":{"field":"q3"},
   "fill":{"field":"cond","type":"nominal","scale":{"domain":["Alien","Alike","Similar","Similar No Reminder"],"range":["#3B9AB2","#EBCC2A","#78B7C5","#F21A00"]},
    "legend":{"title":"Condition","zindex":1,"labelExpr":"datum.label == 'Similar No Reminder' ? ['Similar', 'No Reminder'] : datum.label",
     "encode":{"labels":{"update":{"dy":{"signal":"datum.value == 'Similar No Reminder' ? -15 : 0"},"lineHeight":{"value":29}}}}}}}},
 {"data":{"name":"boxes"},
  "mark":{"type":"bar","stroke":"#333333","strokeWidth":2.6,"fillOpacity":0},
  "encoding":{
   "xOffset":{"field":"cond","type":"nominal","scale":{"type":"band","domain":["Alien","Alike","Similar","Similar No Reminder"],"paddingInner":0,"paddingOuter":0.6667}},
   "y":{"field":"med","type":"quantitative","title":"Item Response Frequency","scale":{"domain":[-0.05,1.05],"nice":false,"zero":false},"axis":{"values":[0,0.1,0.2,0.3,0.4,0.5,0.6,0.7,0.8,0.9,1.0],"format":".1f"}},
   "y2":{"field":"med"}}},
 {"data":{"name":"points"},
  "transform":[{"calculate":"indexof(['Alien','Alike','Similar','Similar No Reminder'], datum.cond) + datum.jit","as":"xo"}],
  "mark":{"type":"circle","size":95,"stroke":"#222222","strokeWidth":0.8,"strokeOpacity":0.8,"fillOpacity":0.8,"opacity":1},
  "encoding":{
   "xOffset":{"field":"xo","type":"quantitative","scale":{"domain":[-1.1667,4.1667],"nice":false,"zero":false}},
   "y":{"field":"freq","type":"quantitative","title":"Item Response Frequency","scale":{"domain":[-0.05,1.05],"nice":false,"zero":false},"axis":{"values":[0,0.1,0.2,0.3,0.4,0.5,0.6,0.7,0.8,0.9,1.0],"format":".1f"}},
   "color":{"field":"cond","type":"nominal","scale":{"domain":["Alien","Alike","Similar","Similar No Reminder"],"range":["#3B9AB2","#EBCC2A","#78B7C5","#C75A16"]},"legend":null}}},
 {"data":{"name":"boxes"},
  "mark":{"type":"point","shape":"diamond","filled":true,"color":"black","size":360,"opacity":1},
  "encoding":{
   "xOffset":{"field":"cond","type":"nominal","scale":{"type":"band","domain":["Alien","Alike","Similar","Similar No Reminder"],"paddingInner":0,"paddingOuter":0.6667}},
   "y":{"field":"mean","type":"quantitative","title":"Item Response Frequency","scale":{"domain":[-0.05,1.05],"nice":false,"zero":false},"axis":{"values":[0,0.1,0.2,0.3,0.4,0.5,0.6,0.7,0.8,0.9,1.0],"format":".1f"}}}}
],
"resolve":{"scale":{"xOffset":"independent"}}
}
